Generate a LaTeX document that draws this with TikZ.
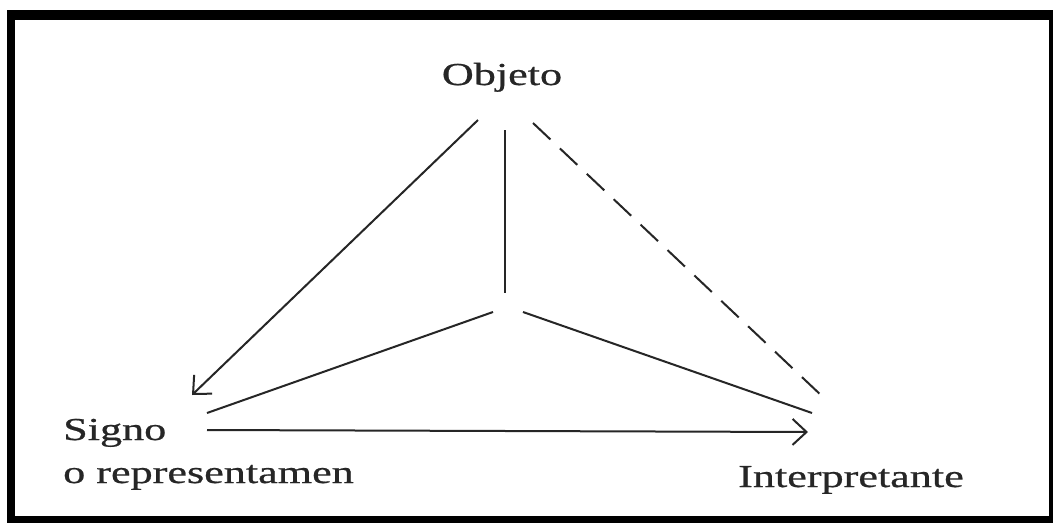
\documentclass[tikz,border=0pt]{standalone}
\usepackage{fontspec}
\setmainfont{Liberation Serif}
\newfontfamily\lblfont{Liberation Serif}[FakeBold=0.6]
\usetikzlibrary{arrows.meta}
\definecolor{ink}{HTML}{262626}
\tikzset{
  lbl/.style={inner sep=0pt, text=ink, font=\lblfont\fontsize{32}{32}\selectfont},
  conn/.style={draw=ink, line width=2pt},
  tip/.style={-{Straight Barb[length=14pt,width=26pt,line width=2pt]}},
  dashconn/.style={conn, dash pattern=on 24pt off 13pt}
}
\newcommand{\wide}[1]{\scalebox{1.38}[1]{#1}}
\begin{document}
\begin{tikzpicture}[x=1pt,y=-1pt]
\useasboundingbox (0,0) rectangle (1053,523);
% frame
\fill[black] (7,10) rectangle (1053,523);
\fill[white] (15,20) rectangle (1049,516);
% labels
\node[lbl, anchor=base] (obj) at (502,85) {\wide{Objeto}};
\node[lbl, anchor=base west] (sig) at (63,440) {\wide{Signo}};
\node[lbl, anchor=base west] (rep) at (63,483) {\wide{o representamen}};
\node[lbl, anchor=base west] (int) at (738,487) {\wide{Interpretante}};
% connector end points
\coordinate (oL) at (478,120);
\coordinate (sA) at (192,395);
\coordinate (oC) at (505,130);
\coordinate (cT) at (505,293);
\coordinate (oR) at (533,123);
\coordinate (iD) at (823,397);
\coordinate (cL) at (493,312);
\coordinate (sL) at (207,413);
\coordinate (cR) at (523,312);
\coordinate (iL) at (812,413);
\coordinate (sB) at (207,430);
\coordinate (iB) at (808,432);
% connectors
\draw[conn, tip] (oL) -- (sA);
\draw[conn] (oC) -- (cT);
\draw[dashconn] (oR) -- (iD);
\draw[conn] (cL) -- (sL);
\draw[conn] (cR) -- (iL);
\draw[conn, tip] (sB) -- (iB);
\end{tikzpicture}
\end{document}
